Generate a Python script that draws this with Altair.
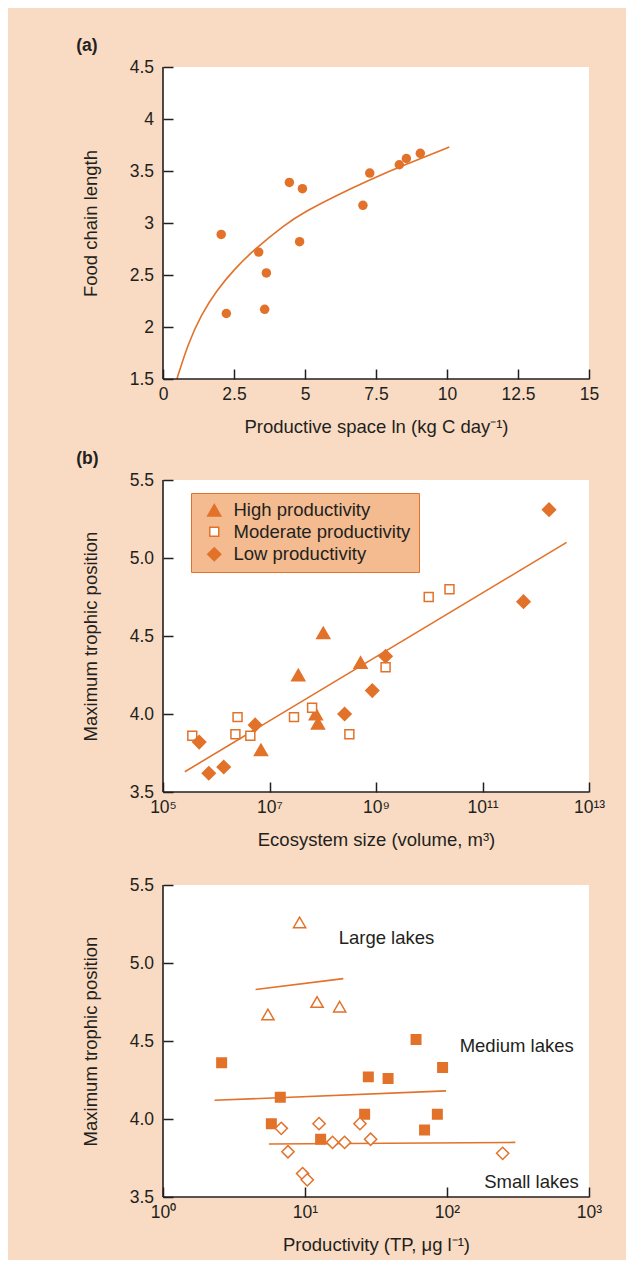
import altair as alt
import pandas as pd

ORANGE = "#E2722A"
PEACH = "#F9DBC3"
DARK = "#231F20"
LEGEND_FILL = "#F3BB8F"
FONT = "Liberation Sans"

# ---------------- Panel (a) ----------------
a_x = [2.05, 2.23, 3.37, 3.64, 3.58, 4.45, 4.91, 4.81, 7.04, 7.28, 8.32, 8.57, 9.06]
a_y = [2.89, 2.13, 2.72, 2.52, 2.17, 3.39, 3.33, 2.82, 3.17, 3.48, 3.56, 3.62, 3.67]
a_curve_x = [0.49, 0.88, 1.35, 1.88, 2.53, 3.11, 4.31, 5.01, 6.07, 7.24, 8.42, 10.08]
a_curve_y = [1.50, 1.84, 2.12, 2.35, 2.56, 2.72, 2.99, 3.11, 3.26, 3.41, 3.55, 3.73]
a_xdomain = [0, 15]
a_ydomain = [1.5, 4.5]
a_xticks = [0, 2.5, 5, 7.5, 10, 12.5, 15]
a_yticks = [1.5, 2, 2.5, 3, 3.5, 4, 4.5]

# ---------------- Panel (b) ----------------
b_cats = ["High productivity", "Moderate productivity", "Low productivity"]
b_high_logx = [6.84, 7.54, 7.87, 7.91, 8.01, 8.71]
b_high_y = [3.77, 4.25, 4.00, 3.94, 4.52, 4.33]
b_mod_logx = [5.55, 6.36, 6.40, 6.64, 7.46, 7.80, 8.50, 9.18, 9.99, 10.38]
b_mod_y = [3.86, 3.87, 3.98, 3.86, 3.98, 4.04, 3.87, 4.30, 4.75, 4.80]
b_low_logx = [5.68, 5.86, 6.14, 6.73, 8.41, 8.93, 9.18, 11.77, 12.25]
b_low_y = [3.82, 3.62, 3.66, 3.93, 4.00, 4.15, 4.37, 4.72, 5.31]
b_line_logx = [5.41, 12.58]
b_line_y = [3.63, 5.10]
b_xdomain = [1e5, 1e13]
b_ydomain = [3.5, 5.5]
b_xticks = [1e5, 1e7, 1e9, 1e11, 1e13]
b_xexps = [5, 7, 9, 11, 13]
b_xlabels = ["10⁵", "10⁷", "10⁹", "10¹¹", "10¹³"]
b_yticks = [3.5, 4.0, 4.5, 5.0, 5.5]

# ---------------- Panel (c) ----------------
c_large_logx = [0.962, 0.739, 1.085, 1.244]
c_large_y = [5.26, 4.67, 4.75, 4.72]
c_med_logx = [0.413, 0.826, 0.763, 1.110, 1.420, 1.446, 1.585, 1.782, 1.842, 1.932, 1.969]
c_med_y = [4.36, 4.14, 3.97, 3.87, 4.03, 4.27, 4.26, 4.51, 3.93, 4.03, 4.33]
c_small_logx = [0.833, 0.880, 0.983, 1.016, 1.099, 1.194, 1.279, 1.387, 1.462, 2.392]
c_small_y = [3.94, 3.79, 3.65, 3.61, 3.97, 3.85, 3.85, 3.97, 3.87, 3.78]
c_large_line_logx = [0.652, 1.270]
c_large_line_y = [4.83, 4.90]
c_med_line_logx = [0.363, 1.993]
c_med_line_y = [4.12, 4.18]
c_small_line_logx = [0.746, 2.481]
c_small_line_y = [3.84, 3.85]
c_labels = ["Large lakes", "Medium lakes", "Small lakes"]
c_label_logx = [1.237, 2.089, 2.262]
c_label_y = [5.16, 4.465, 3.596]
c_xdomain = [1, 1000]
c_ydomain = [3.5, 5.5]
c_xticks = [1, 10, 100, 1000]
c_xexps = [0, 1, 2, 3]
c_xlabels = ["10⁰", "10¹", "10²", "10³"]
c_yticks = [3.5, 4.0, 4.5, 5.0, 5.5]

W, H = 426, 312


def label_expr(exps, labels):
    parts = [f"round(log(datum.value)/LN10) == {e} ? '{l}'" for e, l in zip(exps, labels)]
    return " : ".join(parts) + " : ''"


def x_axis(title, values, fmt=None, expr=None):
    kw = dict(title=title, values=values, offset=-10, tickSize=10, domain=False,
              grid=False, labelPadding=6, titlePadding=15, tickColor=DARK,
              tickWidth=1.5, labelFontSize=17.5, titleFontSize=18.5,
              titleFontWeight="normal", labelColor=DARK, titleColor=DARK,
              labelFont=FONT, titleFont=FONT, labelFlush=False, labelOverlap=False)
    if fmt:
        kw["format"] = fmt
    if expr:
        kw["labelExpr"] = expr
    return alt.Axis(**kw)


def y_axis(title, values, fmt):
    return alt.Axis(title=title, values=values, format=fmt, offset=-10, tickSize=10,
                    domain=False, grid=False, labelPadding=9.5, titlePadding=29,
                    tickColor=DARK, tickWidth=1.5, labelFontSize=17.5,
                    titleFontSize=18.5, titleFontWeight="normal", labelColor=DARK,
                    titleColor=DARK, labelFont=FONT, titleFont=FONT, labelFlush=False,
                    labelOverlap=False)


def frame(xmin, ymin):
    one = pd.DataFrame({"k": [0]})
    vline = alt.Chart(one).mark_rule(color=DARK, strokeWidth=1.6).encode(x=alt.datum(xmin))
    hline = alt.Chart(one).mark_rule(color=DARK, strokeWidth=1.6).encode(y=alt.datum(ymin))
    return [vline, hline]


def title(text, **kw):
    return alt.TitleParams(text, anchor="start", fontSize=17.5, fontWeight="bold",
                           font=FONT, color=DARK, **kw)


# ---- panel a chart ----
df_a = pd.DataFrame({"x": a_x, "y": a_y})
df_a_curve = pd.DataFrame({"x": a_curve_x, "y": a_curve_y})
ax_a = alt.X("x:Q", scale=alt.Scale(domain=a_xdomain, nice=False, zero=False),
             axis=x_axis("Productive space ln (kg C day⁻¹)", a_xticks, fmt=".3~g"))
ay_a = alt.Y("y:Q", scale=alt.Scale(domain=a_ydomain, nice=False, zero=False),
             axis=y_axis("Food chain length", a_yticks, ".3~g"))
a_pts = alt.Chart(df_a).mark_circle(size=90, color=ORANGE, opacity=1).encode(x=ax_a, y=ay_a)
a_curve = alt.Chart(df_a_curve).mark_line(color=ORANGE, strokeWidth=1.6,
                                           interpolate="basis").encode(x="x:Q", y="y:Q")
panel_a = alt.layer(a_curve, a_pts, *frame(a_xdomain[0], a_ydomain[0])).properties(
    width=W, height=H, title=title("(a)", dx=-5, offset=4))

# ---- panel b chart ----
rows = []
for cat, lx, ys in [(b_cats[0], b_high_logx, b_high_y),
                    (b_cats[1], b_mod_logx, b_mod_y),
                    (b_cats[2], b_low_logx, b_low_y)]:
    for a, b in zip(lx, ys):
        rows.append({"x": 10 ** a, "y": b, "cat": cat})
df_b = pd.DataFrame(rows)
df_b_line = pd.DataFrame({"x": [10 ** v for v in b_line_logx], "y": b_line_y})

ax_b = alt.X("x:Q", scale=alt.Scale(type="log", domain=b_xdomain, nice=False),
             axis=x_axis("Ecosystem size (volume, m³)", b_xticks,
                         expr=label_expr(b_xexps, b_xlabels)))
ay_b = alt.Y("y:Q", scale=alt.Scale(domain=b_ydomain, nice=False, zero=False),
             axis=y_axis("Maximum trophic position", b_yticks, ".1f"))
legend_b = alt.Legend(title=None, orient="none", legendX=28, legendY=13,
                      fillColor=LEGEND_FILL, strokeColor=ORANGE, padding=8,
                      labelFontSize=18.5, labelFont=FONT, labelColor=DARK, labelLimit=400,
                      symbolOffset=6, labelOffset=10, rowPadding=2.5,
                      symbolStrokeWidth=1.5)
b_pts = alt.Chart(df_b).mark_point(filled=True, strokeWidth=1.5, opacity=1).encode(
    x=ax_b, y=ay_b,
    shape=alt.Shape("cat:N", scale=alt.Scale(domain=b_cats, range=["triangle-up", "square", "diamond"]),
                    legend=legend_b),
    fill=alt.Fill("cat:N", scale=alt.Scale(domain=b_cats, range=[ORANGE, "white", ORANGE]),
                  legend=legend_b),
    stroke=alt.Stroke("cat:N", scale=alt.Scale(domain=b_cats, range=[ORANGE, ORANGE, ORANGE]),
                      legend=legend_b),
    size=alt.Size("cat:N", scale=alt.Scale(type="ordinal", domain=b_cats, range=[170, 80, 170]),
                  legend=legend_b),
)
b_line = alt.Chart(df_b_line).mark_line(color=ORANGE, strokeWidth=1.6).encode(x="x:Q", y="y:Q")
panel_b = alt.layer(b_line, b_pts, *frame(b_xdomain[0], b_ydomain[0])).properties(
    width=W, height=H, title=title("(b)", dx=-5, offset=4))

# ---- panel c chart ----
c_groups = ["Large", "Medium", "Small"]
rows = []
for g, lx, ys in [(c_groups[0], c_large_logx, c_large_y),
                  (c_groups[1], c_med_logx, c_med_y),
                  (c_groups[2], c_small_logx, c_small_y)]:
    for a, b in zip(lx, ys):
        rows.append({"x": 10 ** a, "y": b, "g": g})
df_c = pd.DataFrame(rows)
rows = []
for g, lx, ys in [(c_groups[0], c_large_line_logx, c_large_line_y),
                  (c_groups[1], c_med_line_logx, c_med_line_y),
                  (c_groups[2], c_small_line_logx, c_small_line_y)]:
    for a, b in zip(lx, ys):
        rows.append({"x": 10 ** a, "y": b, "g": g})
df_c_lines = pd.DataFrame(rows)
df_c_text = pd.DataFrame({"x": [10 ** v for v in c_label_logx], "y": c_label_y, "t": c_labels})

ax_c = alt.X("x:Q", scale=alt.Scale(type="log", domain=c_xdomain, nice=False),
             axis=x_axis("Productivity (TP, μg l⁻¹)", c_xticks,
                         expr=label_expr(c_xexps, c_xlabels)))
ay_c = alt.Y("y:Q", scale=alt.Scale(domain=c_ydomain, nice=False, zero=False),
             axis=y_axis("Maximum trophic position", c_yticks, ".1f"))
c_pts = alt.Chart(df_c).mark_point(filled=True, stroke=ORANGE, strokeWidth=1.5, opacity=1).encode(
    x=ax_c, y=ay_c,
    shape=alt.Shape("g:N", scale=alt.Scale(domain=c_groups, range=["triangle-up", "square", "diamond"]),
                    legend=None),
    fill=alt.Fill("g:N", scale=alt.Scale(domain=c_groups, range=["white", ORANGE, "white"]),
                  legend=None),
    size=alt.Size("g:N", scale=alt.Scale(type="ordinal", domain=c_groups, range=[150, 90, 150]),
                  legend=None),
)
c_lines = alt.Chart(df_c_lines).mark_line(color=ORANGE, strokeWidth=1.6).encode(
    x="x:Q", y="y:Q", detail="g:N")
c_text = alt.Chart(df_c_text).mark_text(align="left", baseline="middle", fontSize=18.5,
                                        font=FONT, color=DARK).encode(x="x:Q", y="y:Q", text="t:N")
panel_c = alt.layer(c_lines, c_pts, c_text, *frame(c_xdomain[0], c_ydomain[0])).properties(
    width=W, height=H, title=alt.TitleParams(" ", fontSize=14, offset=0))

chart = alt.vconcat(panel_a, panel_b, panel_c, spacing=13).resolve_scale(
    shape="independent", fill="independent", size="independent", stroke="independent"
).properties(
    background=PEACH,
    padding={"left": 68, "top": 28, "right": 21, "bottom": 6},
).configure_view(fill="white", stroke=None).configure_title(font=FONT)

chart.save("out.html", embed_options={"renderer": "svg", "actions": False})
